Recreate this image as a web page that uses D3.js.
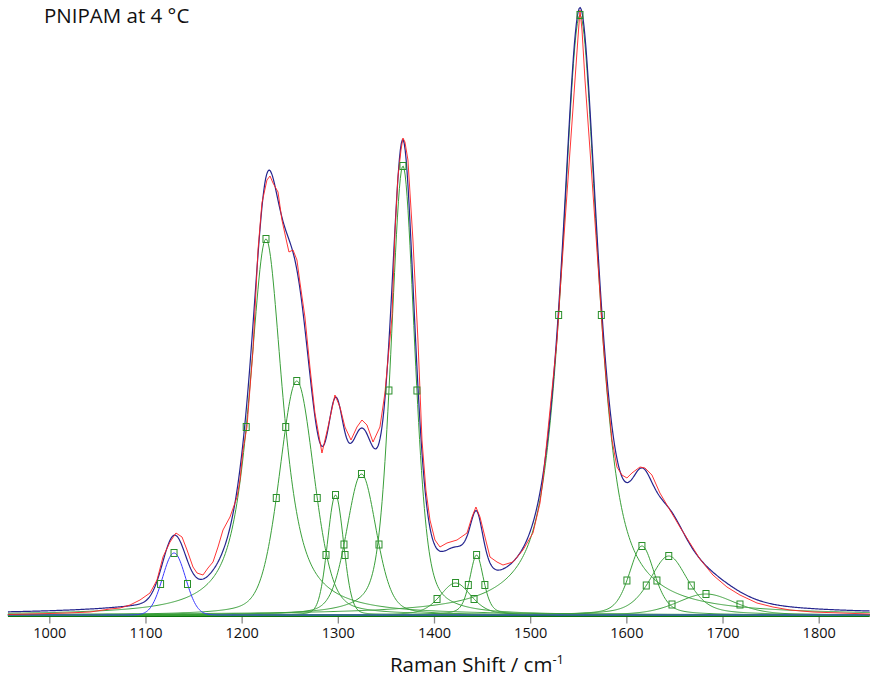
<!DOCTYPE html>
<html>
<head>
<meta charset="utf-8">
<script src="https://cdn.jsdelivr.net/npm/d3@7"></script>
<style>
  html, body { margin: 0; padding: 0; background: #fff; }
  svg { display: block; }
  text { font-family: "Open Sans", "Noto Sans", sans-serif; fill: #111; }
</style>
</head>
<body>
<svg id="chart" width="870" height="681"></svg>
<script>
// ---------------- data ----------------
const chartTitle = "PNIPAM at 4 °C";
const xTicks = [1000, 1100, 1200, 1300, 1400, 1500, 1600, 1700, 1800];
const shiftRange = [957, 1853];

// Gaussian component (blue)
const gaussCenters = [1129.7];
const gaussHeights = [62];
const gaussFwhm = [28];

// Fitted pseudo-Voigt components (green)
const peakCenters = [1225.3, 1257.3, 1297.6, 1324.6, 1367.7, 1422.4, 1444.3, 1551.8, 1616.2, 1644.1, 1682.8];
const peakHeights = [376, 234, 120, 141, 449, 32, 60, 600, 69, 59, 21];
const peakFwhm    = [41.1, 42.6, 19.8, 36.4, 29.1, 38.5, 17.2, 44.4, 31.2, 46.8, 70.7];
const peakLorentz = [0.8, 0.3, 0.15, 0.3, 0.4, 0.4, 0.5, 0.78, 0.45, 0.5, 0.35];

// Measured spectrum (red)
const measuredShift = [957.1, 979.9, 1000.7, 1018.4, 1042.3, 1063.1, 1073.5, 1083.9, 1094.3, 1104.7,
  1112.0, 1118.2, 1125.5, 1131.7, 1138.0, 1143.2, 1149.4, 1153.6, 1159.8, 1165.0,
  1170.2, 1175.4, 1180.6, 1187.9, 1195.2, 1198.3, 1201.4, 1205.5, 1211.8, 1217.0,
  1221.1, 1226.3, 1229.5, 1232.6, 1237.8, 1241.9, 1247.1, 1249.2, 1253.4, 1257.5,
  1260.7, 1265.8, 1271.0, 1276.2, 1283.5, 1289.8, 1297.0, 1302.2, 1307.4, 1313.7,
  1319.9, 1325.1, 1330.3, 1336.6, 1343.8, 1349.0, 1352.1, 1356.3, 1359.4, 1362.5,
  1365.7, 1367.7, 1369.8, 1372.9, 1378.1, 1383.3, 1387.5, 1391.6, 1395.8, 1401.0,
  1406.2, 1413.5, 1423.9, 1434.3, 1439.5, 1443.6, 1447.8, 1453.0, 1458.2, 1465.5,
  1471.7, 1482.1, 1492.5, 1502.9, 1510.2, 1513.3, 1520.6, 1527.9, 1531.0, 1536.2,
  1541.4, 1546.6, 1549.7, 1551.8, 1553.9, 1557.0, 1562.2, 1567.4, 1572.6, 1575.7,
  1579.9, 1585.1, 1590.2, 1595.4, 1600.6, 1605.8, 1614.2, 1619.4, 1626.6, 1634.9,
  1645.3, 1655.7, 1666.1, 1676.5, 1690.0, 1704.6, 1718.1, 1735.8, 1752.4, 1770.1,
  1794.0, 1822.1, 1853.3];
const measuredIntensity = [0.5, 1, 1.5, 2, 3, 6, 7, 10, 15, 22,
  35, 58, 73, 82, 78, 65, 48, 42, 40, 47,
  53, 68, 85, 98, 118, 135, 165, 188, 265, 365,
  412, 435, 439, 432, 423, 395, 372, 363, 365, 355,
  332, 298, 248, 202, 162, 188, 220, 208, 188, 175,
  188, 195, 190, 173, 188, 222, 255, 298, 382, 438,
  465, 477, 473, 455, 375, 275, 175, 125, 95, 75,
  68, 72, 75, 82, 98, 108, 98, 78, 58, 53,
  50, 53, 65, 82, 112, 135, 205, 275, 322, 393,
  464, 535, 577, 605, 585, 535, 465, 393, 322, 275,
  225, 175, 148, 140, 137, 142, 148, 147, 140, 122,
  105, 88, 72, 56, 40, 28, 20, 12, 8, 5,
  3, 2, 1];

// ---------------- drawing ----------------
const svg = d3.select("#chart");
const x = d3.scaleLinear().domain([1000, 1800]).range([49.3, 818.7]);
const y = d3.scaleLinear().domain([0, 605]).range([615, 10]);

const grid = d3.range(shiftRange[0], shiftRange[1] + 0.5, 1);

function pvoigt(v, c, h, w, eta) {
  const t = (v - c) / w;
  const L = 1 / (1 + 4 * t * t);
  const G = Math.exp(-4 * Math.LN2 * t * t);
  return h * (eta * L + (1 - eta) * G);
}

const components = peakCenters.map((c, i) => ({
  c, h: peakHeights[i], w: peakFwhm[i], eta: peakLorentz[i]
}));
const gaussComps = gaussCenters.map((c, i) => ({
  c, h: gaussHeights[i], w: gaussFwhm[i], eta: 0
}));
const allComps = gaussComps.concat(components);

const line = d3.line().x(d => x(d[0])).y(d => y(d[1]));

// x axis
const axis = d3.axisBottom(x).tickValues(xTicks).tickSize(7).tickSizeOuter(0).tickPadding(4)
  .tickFormat(d3.format("d"));
const gAxis = svg.append("g").attr("transform", "translate(0,616.5)").call(axis);
gAxis.select(".domain").remove();
gAxis.selectAll(".tick line").attr("stroke", "#8a8a8a").attr("stroke-width", 1.3);
gAxis.selectAll(".tick text").style("font-size", "14.5px").attr("fill", "#111")
  .style("font-family", "'Open Sans', sans-serif");

// thick zero line shared by the components
svg.append("path")
  .attr("d", line([[shiftRange[0], 0], [shiftRange[1], 0]]))
  .attr("transform", "translate(0,0.5)")
  .attr("stroke", "#0b760b").attr("stroke-width", 3).attr("fill", "none");

// green components
components.forEach(p => {
  svg.append("path")
    .attr("d", line(grid.map(v => [v, pvoigt(v, p.c, p.h, p.w, p.eta)])))
    .attr("fill", "none").attr("stroke", "#3a9f3a").attr("stroke-width", 1);
});
// blue gaussian component
gaussComps.forEach(p => {
  svg.append("path")
    .attr("d", line(grid.map(v => [v, pvoigt(v, p.c, p.h, p.w, 0)])))
    .attr("fill", "none").attr("stroke", "#3a3aff").attr("stroke-width", 1);
});

// total fit
const fit = grid.map(v => [v, d3.sum(allComps, p => pvoigt(v, p.c, p.h, p.w, p.eta))]);
svg.append("path").attr("d", line(fit))
  .attr("fill", "none").attr("stroke", "#24248e").attr("stroke-width", 1.2);

// measured spectrum
const measured = measuredShift.map((v, i) => [v, measuredIntensity[i]]);
svg.append("path").attr("d", line(measured))
  .attr("fill", "none").attr("stroke", "#ff2020").attr("stroke-width", 1).attr("stroke-opacity", 0.9);

// markers: top and half-height points of each component
allComps.forEach(p => {
  [[p.c, p.h], [p.c - p.w / 2, p.h / 2], [p.c + p.w / 2, p.h / 2]].forEach(m => {
    svg.append("rect")
      .attr("x", x(m[0]) - 3).attr("y", y(m[1]) - 3.5)
      .attr("width", 6).attr("height", 7)
      .attr("fill", "none").attr("stroke", "#2a8f2a").attr("stroke-width", 1);
  });
});

// title
svg.append("text").attr("x", 44).attr("y", 23).style("font-size", "20.5px").text(chartTitle);

// axis title
const at = svg.append("text").attr("x", 477).attr("y", 672).attr("text-anchor", "middle")
  .style("font-size", "20.5px");
at.append("tspan").text("Raman Shift / cm");
at.append("tspan").attr("dy", -8).style("font-size", "13px").text("-1");
</script>
</body>
</html>
